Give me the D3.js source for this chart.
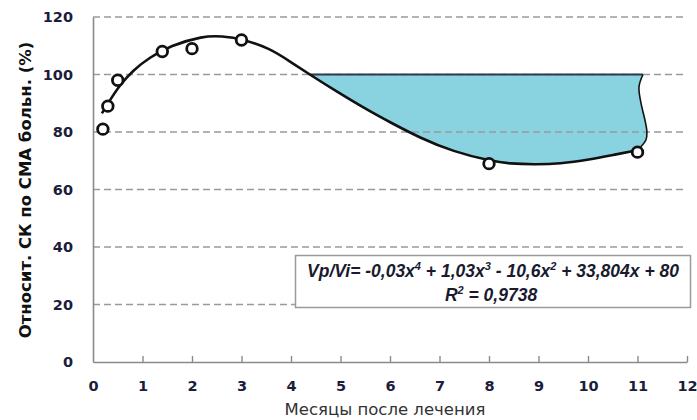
<!DOCTYPE html>
<html>
<head>
<meta charset="utf-8">
<script src="https://cdn.jsdelivr.net/npm/d3@7"></script>
<style>
  body { margin: 0; background: #fff; }
  svg { display: block; }
</style>
</head>
<body>
<svg id="drawing_region"></svg>
<script>
// measured points (months, % of patient's SMA)
const months   = [0.2, 0.3, 0.5, 1.4, 2.0, 3.0, 8.0, 11.0];
const relValue = [81, 89, 98, 108, 109, 112, 69, 73];

// trend line
const trendX = [0.18, 0.34, 0.55, 0.81, 1.15, 1.56, 2.22, 2.6, 3.03, 3.58, 3.98, 4.38, 4.93, 5.54, 6.0, 6.6, 7.27, 8.06, 8.42, 8.9, 9.43, 10.04, 10.5, 11.0];
const trendY = [86.5, 91, 96.5, 101.5, 106, 110, 113.4, 113.4, 112.3, 109, 104.5, 100, 94, 87.7, 83.4, 78, 73.2, 69.8, 69, 68.7, 68.9, 70.4, 72, 73.7];

// hand drawn right edge of the shaded region (bottom -> top)
const edgeX = [11.0, 11.17, 11.19, 11.15, 11.07, 11.03, 11.11];
const edgeY = [73.7, 77.2, 80, 84.2, 90.1, 95.7, 100];

const level = 100;          // upper border of shaded area
const xTicks = d3.range(0, 13);
const yTicks = [0, 20, 40, 60, 80, 100, 120];

const eqText = ["Vp/Vi= -0,03x", "4", " + 1,03x", "3", " - 10,6x", "2", " + 33,804x + 80"];
const r2Text = ["R", "2", " = 0,9738"];

const config = {
    width: 697,
    height: 420,
    margin: {top: 17, right: 10, bottom: 58, left: 93}
};

const svg = d3.select('#drawing_region')
    .attr('width', config.width)
    .attr('height', config.height);

const inner_width = config.width - config.margin.left - config.margin.right;
const inner_height = config.height - config.margin.top - config.margin.bottom;

const chart = svg.append('g')
    .attr('transform', `translate(${config.margin.left}, ${config.margin.top})`);

const xscale = d3.scaleLinear().domain([0, 12]).range([0, inner_width]);
const yscale = d3.scaleLinear().domain([0, 120]).range([inner_height, 0]);

const trend = trendX.map((x, i) => [x, trendY[i]]);
const edge = edgeX.map((x, i) => [x, edgeY[i]]);

const line = d3.line()
    .x(d => xscale(d[0]))
    .y(d => yscale(d[1]))
    .curve(d3.curveBasis);

const edgeLine = d3.line()
    .x(d => xscale(d[0]))
    .y(d => yscale(d[1]))
    .curve(d3.curveCatmullRom);

// shaded region between trend and 100 %
const tail = trend.filter(d => d[0] >= 4.38);
const fillPath = line(tail) + edgeLine(edge).replace(/^M/, 'L') + 'Z';
chart.append('path')
    .attr('d', fillPath)
    .attr('fill', '#89d3e1')
    .attr('stroke', 'none');

// grid
chart.append('g')
    .selectAll('line')
    .data(yTicks.filter(d => d > 0))
    .join('line')
    .attr('x1', 0)
    .attr('x2', inner_width)
    .attr('y1', d => yscale(d))
    .attr('y2', d => yscale(d))
    .attr('stroke', '#9a9a9a')
    .attr('stroke-width', 1.5)
    .attr('stroke-dasharray', '7,4');

// top border and right edge of shaded area
chart.append('line')
    .attr('x1', xscale(4.38))
    .attr('x2', xscale(edgeX[edgeX.length - 1]))
    .attr('y1', yscale(level))
    .attr('y2', yscale(level))
    .attr('stroke', '#2c3a55')
    .attr('stroke-width', 2);

chart.append('path')
    .attr('d', edgeLine(edge))
    .attr('fill', 'none')
    .attr('stroke', '#111')
    .attr('stroke-width', 1.6);

// axes
const xaxis = d3.axisBottom(xscale)
    .tickValues(xTicks)
    .tickFormat(d3.format('d'))
    .tickSizeInner(-6)
    .tickSizeOuter(0)
    .tickPadding(19);

const yaxis = d3.axisLeft(yscale)
    .tickValues(yTicks)
    .tickSize(0)
    .tickPadding(20);

const xaxis_group = chart.append('g')
    .attr('transform', `translate(0, ${inner_height})`)
    .call(xaxis);

const yaxis_group = chart.append('g')
    .call(yaxis);

[xaxis_group, yaxis_group].forEach(g => {
    g.select('.domain').attr('stroke', '#8a8a8a').attr('stroke-width', 1.6);
    g.selectAll('.tick line').attr('stroke', '#8a8a8a').attr('stroke-width', 1.4);
    g.selectAll('.tick text')
        .attr('fill', '#1c1c3c')
        .attr('font-family', '"DejaVu Sans", Verdana, sans-serif')
        .attr('font-weight', 'bold')
        .attr('font-size', 14.5);
});
xaxis_group.selectAll('.tick').filter(d => d === 0).select('line').remove();

// trend curve
chart.append('path')
    .attr('d', line(trend))
    .attr('fill', 'none')
    .attr('stroke', '#111')
    .attr('stroke-width', 2.6);

// points
chart.append('g')
    .selectAll('circle')
    .data(months.map((m, i) => [m, relValue[i]]))
    .join('circle')
    .attr('cx', d => xscale(d[0]))
    .attr('cy', d => yscale(d[1]))
    .attr('r', 5.3)
    .attr('fill', '#fff')
    .attr('stroke', '#111')
    .attr('stroke-width', 2.8);

// equation box
const box = svg.append('g');
box.append('rect')
    .attr('x', 295.5)
    .attr('y', 255.5)
    .attr('width', 395)
    .attr('height', 52)
    .attr('fill', '#fff')
    .attr('stroke', '#9a9a9a')
    .attr('stroke-width', 1.5);

function writeSup(sel, parts) {
    parts.forEach((p, i) => {
        const sup = i % 2 === 1;
        sel.append('tspan')
            .attr('font-size', sup ? 11 : 17.5)
            .attr('dy', sup ? -7 : (i > 0 ? 7 : 0))
            .text(p);
    });
}

const eq = box.append('text')
    .attr('x', 493)
    .attr('y', 277)
    .attr('text-anchor', 'middle')
    .attr('font-family', '"Liberation Sans", Arial, sans-serif')
    .attr('font-weight', 'bold')
    .attr('font-style', 'italic')
    .attr('fill', '#1a1a2e')
    .attr('xml:space', 'preserve');
writeSup(eq, eqText);

const r2 = box.append('text')
    .attr('x', 491)
    .attr('y', 301)
    .attr('text-anchor', 'middle')
    .attr('font-family', '"Liberation Sans", Arial, sans-serif')
    .attr('font-weight', 'bold')
    .attr('font-style', 'italic')
    .attr('fill', '#1a1a2e');
writeSup(r2, r2Text);

// axis titles
svg.append('text')
    .attr('transform', 'translate(31, 190) rotate(-90)')
    .attr('text-anchor', 'middle')
    .attr('font-family', '"DejaVu Sans", Verdana, sans-serif')
    .attr('font-weight', 'bold')
    .attr('font-size', 16.5)
    .attr('fill', '#111')
    .text('Относит. СК по СМА больн. (%)');

svg.append('text')
    .attr('x', 385)
    .attr('y', 415)
    .attr('text-anchor', 'middle')
    .attr('font-family', '"DejaVu Sans", Verdana, sans-serif')
    .attr('font-size', 16.5)
    .attr('fill', '#333')
    .text('Месяцы после лечения');
</script>
</body>
</html>
